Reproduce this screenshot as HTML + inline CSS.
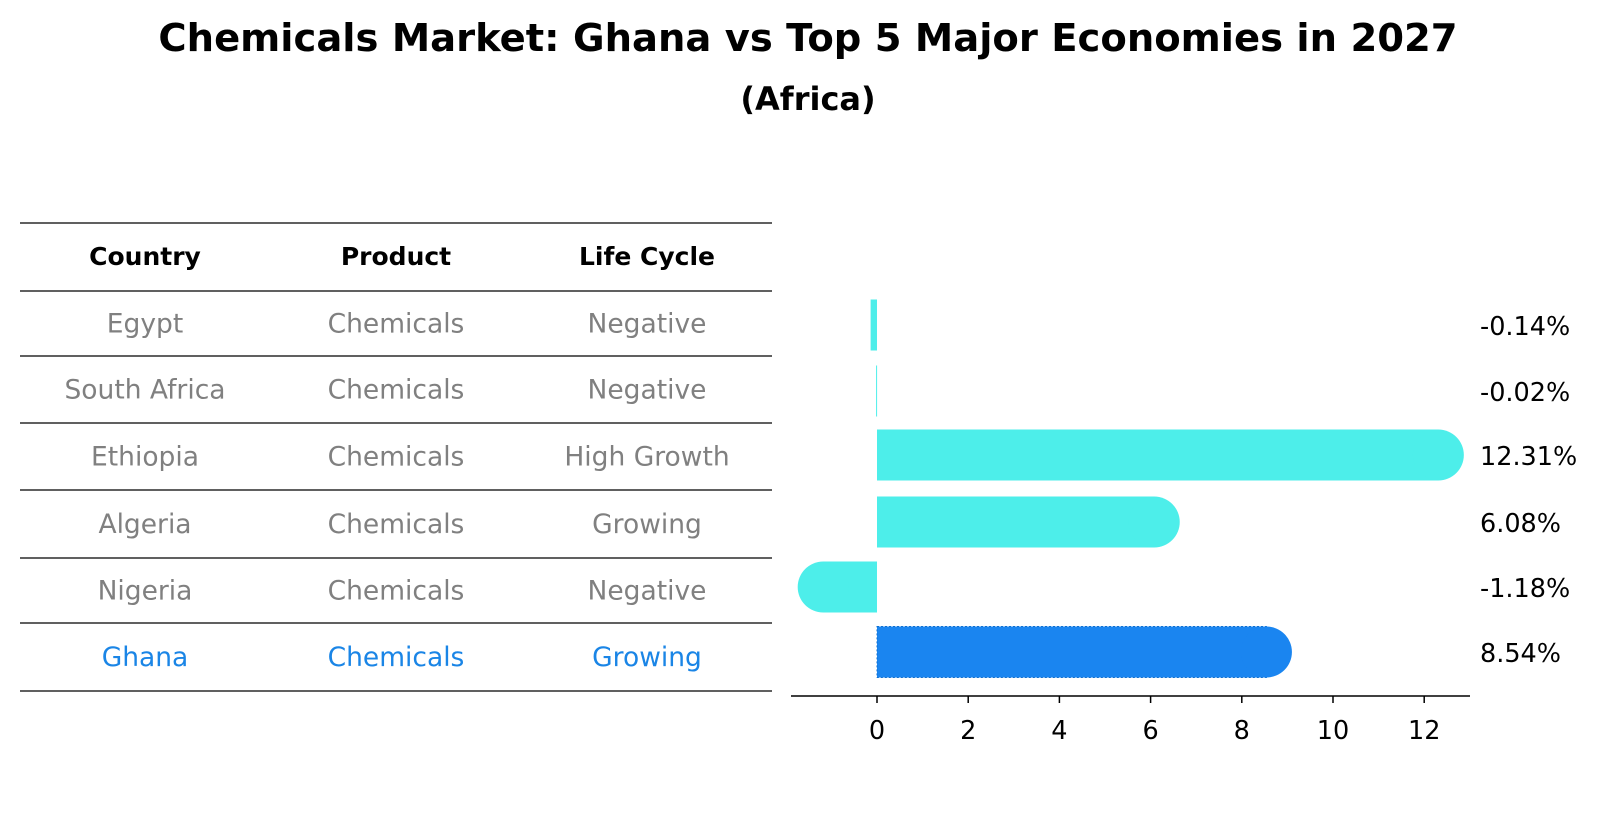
<!DOCTYPE html>
<html><head><meta charset="utf-8"><style>
body{margin:0;background:#fff;font-family:"DejaVu Sans","Liberation Sans",sans-serif}
</style></head><body>
<svg width="1604" height="823" xmlns="http://www.w3.org/2000/svg" font-family="'DejaVu Sans','Liberation Sans',sans-serif">
<text x="808" y="51" text-anchor="middle" font-size="38.5" font-weight="bold">Chemicals Market: Ghana vs Top 5 Major Economies in 2027</text>
<text x="808" y="110" text-anchor="middle" font-size="32" font-weight="bold">(Africa)</text>
<g id="table"></g>
<g id="bars"></g>
</svg>
<script>
const countries=["Egypt","South Africa","Ethiopia","Algeria","Nigeria","Ghana"];
const products=["Chemicals","Chemicals","Chemicals","Chemicals","Chemicals","Chemicals"];
const lifecycle=["Negative","Negative","High Growth","Growing","Negative","Growing"];
const values=[-0.14,-0.02,12.31,6.08,-1.18,8.54];
const valueLabels=["-0.14%","-0.02%","12.31%","6.08%","-1.18%","8.54%"];
const ticks=[0,2,4,6,8,10,12];
const NS="http://www.w3.org/2000/svg";
function mk(t,a,p){const e=document.createElementNS(NS,t);for(const k in a)e.setAttribute(k,a[k]);p.appendChild(e);return e;}
const tbl=document.getElementById('table');
const lineYs=[223,291,356,423,490,558,623,691];
lineYs.forEach(y=>{const l=mk('line',{x1:20,x2:772,y1:y,y2:y,stroke:'#000','stroke-width':1.3},tbl);

});
const colX=[145,396,647];
["Country","Product","Life Cycle"].forEach((h,i)=>{const t=mk('text',{x:colX[i],y:265,'text-anchor':'middle','font-size':25,'font-weight':'bold'},tbl);t.textContent=h;

});
const x0=877,sc=45.6;
function X(v){return x0+v*sc;}
const rowY=[325,391,455,522,587,652];
const tRowY=[323.5,389.5,456.5,524,590.5,657];
countries.forEach((c,i)=>{
 const col=i===5?'#1a85e6':'#808080';
 [c,products[i],lifecycle[i]].forEach((s,j)=>{const t=mk('text',{x:colX[j],y:tRowY[i]+9,'text-anchor':'middle','font-size':26.5,fill:col},tbl);t.textContent=s;
 
 });
});
const g=document.getElementById('bars');
const h=51,r=25.5;
values.forEach((v,i)=>{
 const cy=rowY[i], col=i===5?'#1a85f0':'#4deeea';
 const a=Math.min(X(0),X(v)),b=Math.max(X(0),X(v));
 const rect=mk('rect',{x:a,y:cy-h/2,width:Math.max(b-a,1),height:h,fill:col},g);
 
 
 if(b-a>h){const c=mk('circle',{cx:X(v),cy:cy,r:r,fill:col},g);
 
 }
 if(i===5){rect.setAttribute('stroke','#0f6fd0');rect.setAttribute('stroke-dasharray','2,2');}
 const t=mk('text',{x:1480,y:cy+10,'font-size':25.5},g);t.textContent=valueLabels[i];
 
 
});
const ax=mk('line',{x1:791,x2:1470,y1:696,y2:696,stroke:'#000','stroke-width':1.5},g);


ticks.forEach(v=>{const l=mk('line',{x1:X(v),x2:X(v),y1:696,y2:703,stroke:'#000','stroke-width':1.5},g);


const t=mk('text',{x:X(v),y:739,'text-anchor':'middle','font-size':25.5},g);t.textContent=v;

});
</script>
</body></html>
